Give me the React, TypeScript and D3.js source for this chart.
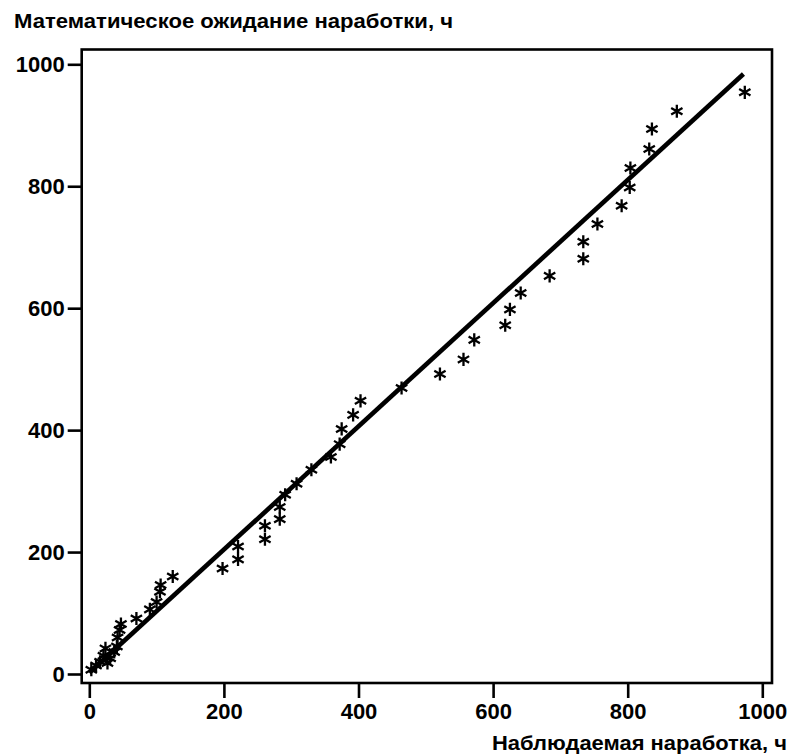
import React, { useEffect, useRef } from "react";
import * as d3 from "d3";

// наблюдаемая наработка (x) и мат. ожидание (y), ч
const observed = [
  3, 10, 16, 21, 24, 27, 31, 37, 41, 42, 45, 47, 70, 90, 100, 105, 106, 124,
  198, 221, 221, 261, 261, 283, 283, 291, 308, 330, 359, 372, 375, 392, 403, 464,
  521, 556, 572, 618, 625, 641, 684, 734, 734, 755, 791, 803, 804, 832, 836, 873, 974,
];
const expected = [
  7, 14, 20, 30, 42, 18, 26, 36, 45, 60, 72, 82, 91, 106, 118, 135, 146, 160,
  173, 188, 209, 221, 243, 254, 274, 294, 312, 335, 356, 377, 402, 425, 448, 469,
  492, 516, 548, 572, 598, 625, 653, 681, 709, 738, 768, 798, 830, 861, 894, 923, 954,
];
// линия регрессии
const fitX = [0, 972];
const fitY = [2, 984];

const xTicks = [0, 200, 400, 600, 800, 1000];
const yTicks = [0, 200, 400, 600, 800, 1000];

const yTitle = "Математическое ожидание наработки, ч";
const xTitle = "Наблюдаемая наработка, ч";

const W = 792;
const H = 756;
const font = "'Liberation Sans', Arial, sans-serif";

export default function App() {
  const svgRef = useRef<SVGSVGElement | null>(null);

  useEffect(() => {
    if (!svgRef.current) return;
    const svg = d3.select(svgRef.current);
    svg.selectAll("*").remove();

    const x = d3.scaleLinear().domain([0, 1000]).range([89.3, 762.3]);
    const y = d3.scaleLinear().domain([0, 1000]).range([674, 64.3]);

    const frame = { left: 81.7, right: 772, top: 49.5, bottom: 683 };

    // рамка
    svg
      .append("rect")
      .attr("x", frame.left)
      .attr("y", frame.top)
      .attr("width", frame.right - frame.left)
      .attr("height", frame.bottom - frame.top)
      .attr("fill", "none")
      .attr("stroke", "#000")
      .attr("stroke-width", 2.6);

    // оси
    const fmt = d3.format("d");
    const gy = svg
      .append("g")
      .attr("transform", `translate(${frame.left},0)`)
      .call(d3.axisLeft(y).tickValues(yTicks).tickFormat(fmt).tickSize(14).tickPadding(3));
    const gx = svg
      .append("g")
      .attr("transform", `translate(0,${frame.bottom})`)
      .call(d3.axisBottom(x).tickValues(xTicks).tickFormat(fmt).tickSize(15).tickPadding(5));

    [gx, gy].forEach((g) => {
      g.select(".domain").remove();
      g.selectAll(".tick line").attr("stroke", "#000").attr("stroke-width", 2.6);
      g.selectAll(".tick text")
        .attr("fill", "#000")
        .style("font-family", font)
        .style("font-size", "22px")
        .style("font-weight", "bold");
    });

    // линия
    const line = d3
      .line<number>()
      .x((d) => x(d))
      .y((_, i) => y(fitY[i]));
    svg
      .append("path")
      .attr("d", line(fitX))
      .attr("fill", "none")
      .attr("stroke", "#000")
      .attr("stroke-width", 4.6);

    // точки
    const sym = d3.symbol().type(d3.symbolAsterisk).size(120);
    svg
      .append("g")
      .selectAll("path")
      .data(observed.map((v, i) => [v, expected[i]]))
      .join("path")
      .attr("transform", (d) => `translate(${x(d[0])},${y(d[1])})`)
      .attr("d", sym()!)
      .attr("fill", "none")
      .attr("stroke", "#000")
      .attr("stroke-width", 2.3);

    // подписи
    svg
      .append("text")
      .attr("x", 14)
      .attr("y", 28)
      .attr("textLength", 439)
      .attr("lengthAdjust", "spacingAndGlyphs")
      .style("font-family", font)
      .style("font-size", "21px")
      .style("font-weight", "bold")
      .text(yTitle);
    svg
      .append("text")
      .attr("x", 492)
      .attr("y", 750)
      .attr("textLength", 295)
      .attr("lengthAdjust", "spacingAndGlyphs")
      .style("font-family", font)
      .style("font-size", "21px")
      .style("font-weight", "bold")
      .text(xTitle);
  }, []);

  return (
    <div style={{ width: W, height: H }}>
      <style>{"body{margin:0;background:#fff}"}</style>
      <svg ref={svgRef} width={W} height={H} style={{ display: "block" }} />
    </div>
  );
}
